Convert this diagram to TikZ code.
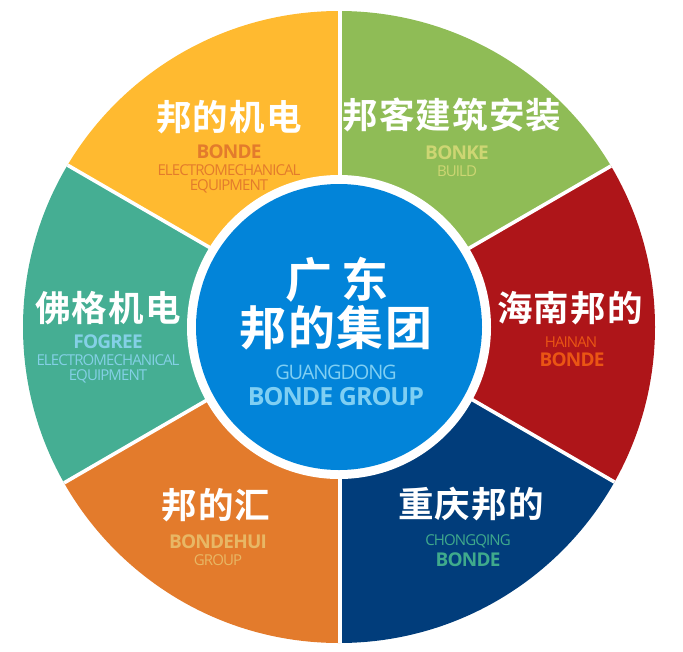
\documentclass[tikz,border=0pt]{standalone}
\usepackage{fontspec}
\setmainfont{Open Sans}
\newfontfamily\cjkb[LetterSpace=3]{Noto Sans CJK SC Bold}
\newfontfamily\cjkc[LetterSpace=4]{Noto Sans CJK SC Bold}
\newfontfamily\latb[LetterSpace=-4]{Open Sans}[BoldFont={Open Sans Bold}]
\newfontfamily\latr[LetterSpace=-6]{Open Sans}
\definecolor{cyel}{HTML}{FFBA30}
\definecolor{cgrn}{HTML}{8FBC56}
\definecolor{cred}{HTML}{AE1519}
\definecolor{cnav}{HTML}{013D7B}
\definecolor{cora}{HTML}{E37B2C}
\definecolor{ctea}{HTML}{45AE93}
\definecolor{cblu}{HTML}{0284D9}
\definecolor{tsky}{HTML}{7FCFF3}
\definecolor{tfog}{HTML}{84D0E6}
\definecolor{tbon}{HTML}{CDD673}
\definecolor{thai}{HTML}{EA5514}
\definecolor{thui}{HTML}{E8B765}
\definecolor{tchq}{HTML}{3FAA8C}
\tikzset{
  cn/.style={text=white,inner sep=0pt,font=\cjkb\fontsize{35.5}{35.5}\selectfont},
  cnbig/.style={text=white,inner sep=0pt,font=\cjkc\fontsize{47}{47}\selectfont},
  bd/.style={inner sep=0pt,font=\latb\bfseries\fontsize{19}{19}\selectfont},
  lt/.style={inner sep=0pt,font=\latr\fontsize{15}{15}\selectfont},
  spoke/.style={draw=white,line width=3.6pt}
}
\begin{document}
\begin{tikzpicture}[x=1pt,y=-1pt]
\useasboundingbox (0,0) rectangle (683,651);
\coordinate (c) at (340,323);
\coordinate (o) at (339,327);
\coordinate (ur) at (680,126);
\coordinate (lr) at (680,520);
\coordinate (ul) at (0,126);
\coordinate (ll) at (0,520);
\coordinate (t) at (340,-5);
\coordinate (b) at (340,660);
\begin{scope}
  \clip (o) circle[radius=316];
  \fill[cgrn] (c) -- (t) -- (683,-5) -- (ur) -- cycle;
  \fill[cred] (c) -- (ur) -- (lr) -- cycle;
  \fill[cnav] (c) -- (lr) -- (683,660) -- (b) -- cycle;
  \fill[cora] (c) -- (b) -- (0,660) -- (ll) -- cycle;
  \fill[ctea] (c) -- (ll) -- (ul) -- cycle;
  \fill[cyel] (c) -- (ul) -- (0,-5) -- (t) -- cycle;
  \draw[spoke] (c) -- (t);
  \draw[spoke] (c) -- (ur);
  \draw[spoke] (c) -- (lr);
  \draw[spoke] (c) -- (b);
  \draw[spoke] (c) -- (ll);
  \draw[spoke] (c) -- (ul);
\end{scope}
\fill[white] (o) circle[radius=152];
\fill[cblu] (o) circle[radius=143];
% centre
\node[cnbig] (n1) at (337,280) {广\hspace{9pt}东};
\node[cnbig] (n2) at (336,328) {邦的集团};
\node[lt,text=tsky,font=\latr\fontsize{20}{20}\selectfont] (n3) at (336,372) {GUANGDONG};
\node[bd,text=tsky,font=\latb\bfseries\fontsize{25}{25}\selectfont] (n4) at (336,397) {BONDE GROUP};
% yellow
\node[cn] (y1) at (229,117) {邦的机电};
\node[bd,text=cora] (y2) at (229,152) {BONDE};
\node[lt,text=cora] (y3) at (229,170.5) {ELECTROMECHANICAL};
\node[lt,text=cora] (y4) at (229,186.5) {EQUIPMENT};
% green
\node[cn] (g1) at (452,115) {邦客建筑安装};
\node[bd,text=tbon] (g2) at (457,153) {BONKE};
\node[lt,text=tbon] (g3) at (457,171) {BUILD};
% red
\node[cn] (r1) at (570,308) {海南邦的};
\node[lt,text=thai] (r2) at (571,342) {HAINAN};
\node[bd,text=thai] (r3) at (572,360) {BONDE};
% teal
\node[cn] (e1) at (108,308) {佛格机电};
\node[bd,text=tfog] (e2) at (108,342) {FOGREE};
\node[lt,text=tfog] (e3) at (108,360) {ELECTROMECHANICAL};
\node[lt,text=tfog] (e4) at (108,376.5) {EQUIPMENT};
% orange
\node[cn] (a1) at (216,505) {邦的汇};
\node[bd,text=thui] (a2) at (218,542) {BONDEHUI};
\node[lt,text=thui] (a3) at (218,560) {GROUP};
% navy
\node[cn] (v1) at (471,504) {重庆邦的};
\node[lt,text=tchq] (v2) at (468,541) {CHONGQING};
\node[bd,text=tchq] (v3) at (468,560) {BONDE};
\end{tikzpicture}
\end{document}
